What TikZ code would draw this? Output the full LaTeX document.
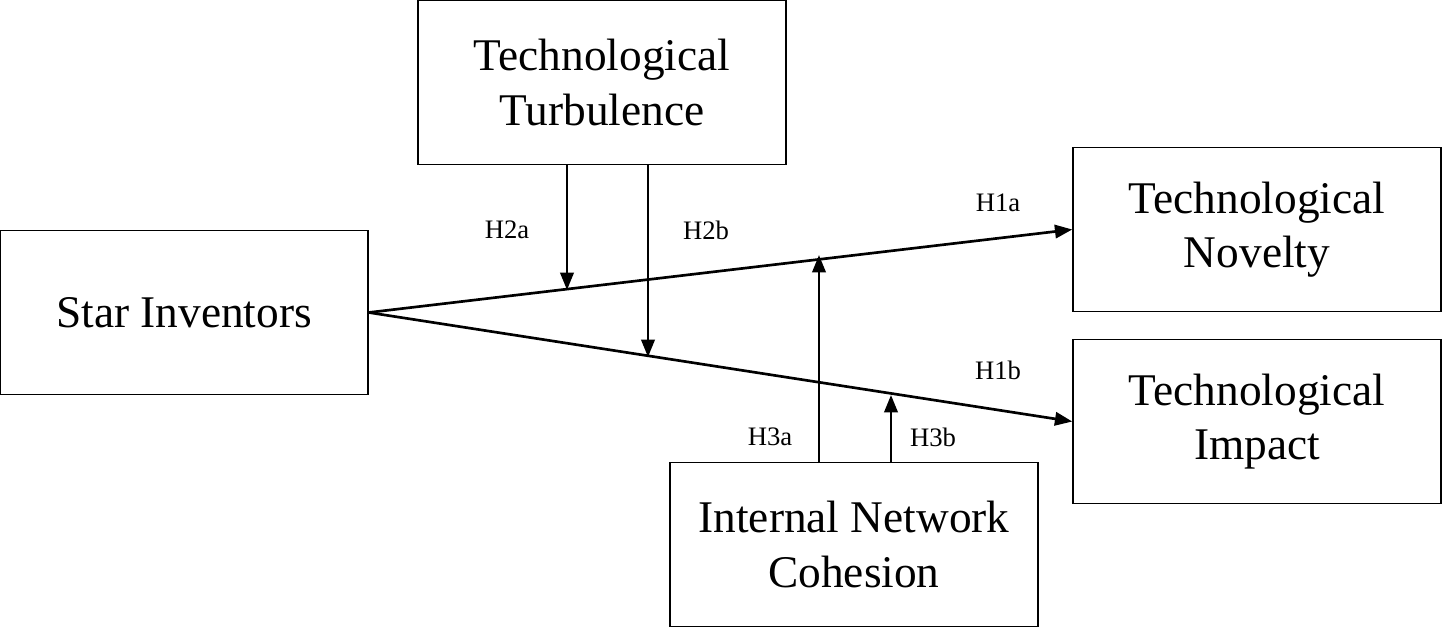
\documentclass[tikz,border=0pt]{standalone}
\usepackage{fontspec}
\setmainfont{Liberation Serif}
\usetikzlibrary{arrows.meta}
\begin{document}
\begin{tikzpicture}[x=0.75pt,y=-0.75pt,
  box/.style={draw,line width=1.1pt,minimum width=276pt,minimum height=123pt,align=center,font=\fontsize{34}{41}\selectfont,inner sep=0pt},
  lab/.style={font=\fontsize{20}{24}\selectfont},
  arr/.style={line width=2pt,-{Triangle[length=13pt,width=10pt]}}]
\useasboundingbox (0,0) rectangle (1446,629);
\node[box] (si) at (184,312.5) {Star Inventors};
\node[box] (tt) at (602,82.5) {Technological\\Turbulence};
\node[box] (nov) at (1257,229.5) {Technological\\Novelty};
\node[box] (imp) at (1257,421.5) {Technological\\Impact};
\node[box] (inc) at (854,544.5) {Internal Network\\Cohesion};
\draw[arr] (si.east) -- (nov.west);
\draw[arr] (si.east) -- (imp.west);
\coordinate (a) at (567,290);
\coordinate (b) at (648,357);
\coordinate (c) at (819,255);
\coordinate (d) at (891,395);
\draw[arr] (tt.south -| a) -- (a);
\draw[arr] (tt.south -| b) -- (b);
\draw[arr] ([yshift=-1pt]inc.north -| c) -- (c);
\draw[arr] ([yshift=-1pt]inc.north -| d) -- (d);
\node[lab] (h1a) at (998,203) {H1a};
\node[lab] (h1b) at (998,370) {H1b};
\node[lab] (h2a) at (507,230) {H2a};
\node[lab] (h2b) at (706,230) {H2b};
\node[lab] (h3a) at (770,437) {H3a};
\node[lab] (h3b) at (933,437) {H3b};
\end{tikzpicture}
\end{document}
